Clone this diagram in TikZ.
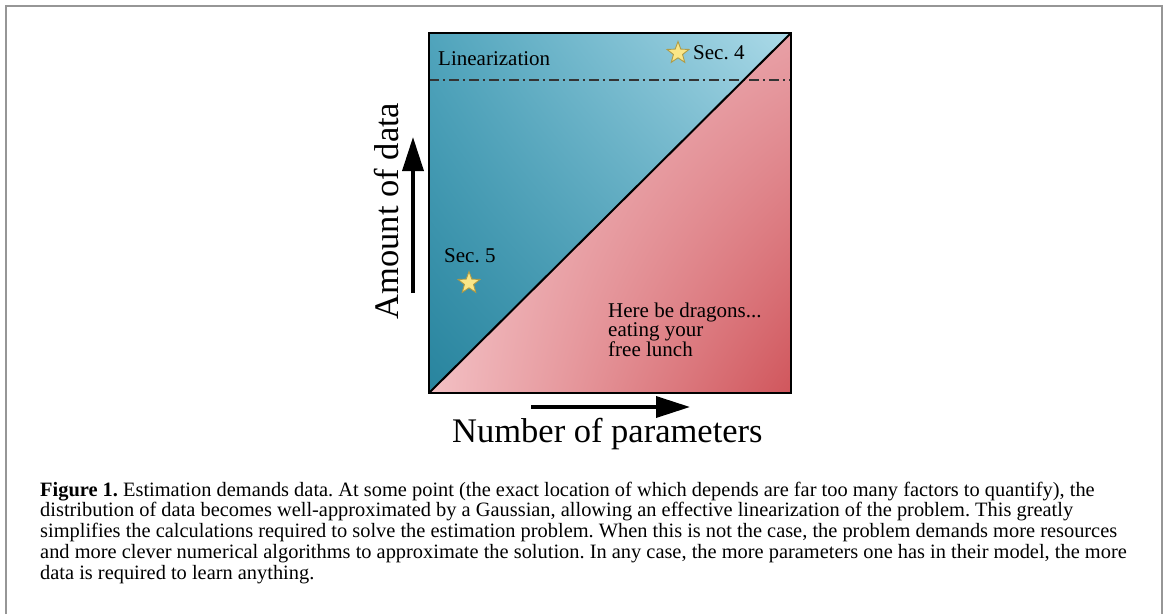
\documentclass[tikz,border=0pt]{standalone}
\usepackage{fontspec}
\setmainfont{Liberation Serif}
\usepackage{tikz}
\usetikzlibrary{arrows.meta, shapes.geometric, shadings}

\definecolor{tealdark}{RGB}{40,132,158}
\definecolor{tealmid}{RGB}{80,164,188}
\definecolor{teallight}{RGB}{172,218,232}
\definecolor{pinklight}{RGB}{243,192,196}
\definecolor{pinkmid}{RGB}{232,160,166}
\definecolor{pinkdark}{RGB}{208,86,92}
\definecolor{starfill}{RGB}{250,230,135}
\definecolor{staredge}{RGB}{175,155,70}
\definecolor{framegray}{RGB}{150,150,150}

\frenchspacing
\begin{document}
\begin{tikzpicture}[x=1pt, y=-1pt,
  label/.style={inner sep=0pt, font=\fontsize{21}{19.5}\selectfont},
  axislabel/.style={inner sep=0pt, font=\fontsize{34.5}{40}\selectfont},
  axisarrow/.style={line width=3.5pt, -{Triangle[length=34pt, width=21pt]}},
  secstar/.style={star, star points=5, star point ratio=2.4, minimum size=23pt,
    inner sep=0pt, fill=starfill, draw=staredge, line width=0.9pt}]
  \useasboundingbox (0,0) rectangle (1168,614);

  % Corners of the square
  \coordinate (TL) at (429,33);
  \coordinate (TR) at (791,33);
  \coordinate (BR) at (791,393);
  \coordinate (BL) at (429,393);

  % Outer frame (open at the bottom)
  \draw[framegray, line width=2pt] (6,614) -- (6,6) -- (1162,6) -- (1162,614);

  % Upper triangle: enough data
  \begin{scope}
    \clip (BL) -- (TR) -- (TL) -- cycle;
    \shade[lower left=tealdark, upper left=tealmid, upper right=teallight,
      lower right=tealmid] (BL) rectangle (TR);
  \end{scope}

  % Lower triangle: too little data
  \begin{scope}
    \clip (BL) -- (TR) -- (BR) -- cycle;
    \shade[lower left=pinklight, upper left=pinklight, upper right=pinkmid,
      lower right=pinkdark] (BL) rectangle (TR);
  \end{scope}

  % Linearization threshold
  \coordinate (linL) at (429,80);
  \coordinate (linR) at (791,80);
  \draw[black!80, line width=2pt, dash pattern=on 10pt off 4pt on 2pt off 4pt] (linL) -- (linR);

  % Square and diagonal
  \draw[line width=2pt] (TL) rectangle (BR);
  \draw[line width=2pt] (BL) -- (TR);

  % Labels inside the square (multi-line nodes sit on their last baseline)
  \node[label, anchor=base west] (lin) at (438,65) {Linearization};
  \node[secstar] (star4) at (678,53) {};
  \node[label, anchor=base west] (sec4) at (693,59) {Sec. 4};
  \node[label, anchor=base west] (sec5) at (444,262) {Sec. 5};
  \node[secstar] (star5) at (469,283) {};
  \node[label, anchor=base west, align=left] (dragons) at (608,356)
    {Here be dragons...\\eating your\\free lunch};

  % Axes
  \coordinate (yFrom) at (413,293);
  \coordinate (yTo) at (413,137);
  \draw[axisarrow] (yFrom) -- (yTo);
  \node[axislabel, rotate=90, anchor=base] (ylab) at (398,211) {Amount of data};

  \coordinate (xFrom) at (531,407);
  \coordinate (xTo) at (690,407);
  \draw[axisarrow] (xFrom) -- (xTo);
  \node[axislabel, anchor=base west] (xlab) at (452,442) {Number of parameters};

  % Caption
  \node[anchor=base west, align=left, inner sep=0pt, font=\fontsize{20.4}{20.7}\selectfont] (caption) at (40,579)
    {\textbf{Figure 1.} Estimation demands data. At some point (the exact location of which depends are far too many factors to quantify), the\\
     distribution of data becomes well-approximated by a Gaussian, allowing an effective linearization of the problem. This greatly\\
     simplifies the calculations required to solve the estimation problem. When this is not the case, the problem demands more resources\\
     and more clever numerical algorithms to approximate the solution. In any case, the more parameters one has in their model, the more\\
     data is required to learn anything.};
\end{tikzpicture}
\end{document}
